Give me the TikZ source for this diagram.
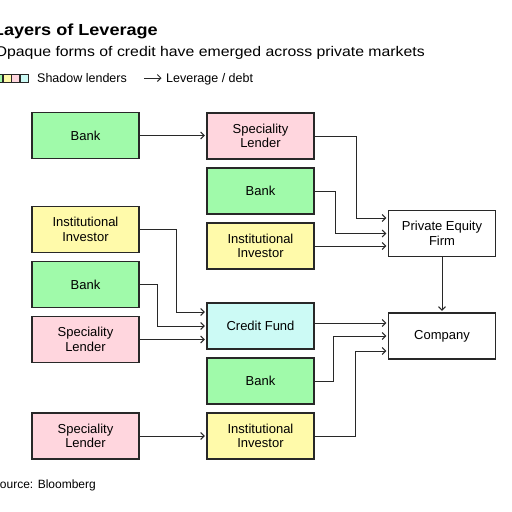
\documentclass[tikz,border=0pt]{standalone}
\usepackage{fontspec}
\setmainfont{Liberation Sans}
\newfontfamily\headfont[FakeStretch=1.13]{Liberation Sans}
\usetikzlibrary{arrows.meta}
\definecolor{bankgreen}{RGB}{160,250,170}
\definecolor{lenderpink}{RGB}{255,214,222}
\definecolor{investoryellow}{RGB}{255,250,170}
\definecolor{fundcyan}{RGB}{204,250,245}
\definecolor{edgegray}{RGB}{40,40,40}

\begin{document}
\begin{tikzpicture}[x=1pt,y=-1pt,
	entity/.style={draw=edgegray, line width=1.2pt, minimum width=107pt, minimum height=46pt, inner sep=0pt, align=center, font=\fontsize{13}{14.5}\selectfont},
	bank/.style={entity, fill=bankgreen},
	lender/.style={entity, fill=lenderpink},
	investor/.style={entity, fill=investoryellow},
	fund/.style={entity, fill=fundcyan},
	firm/.style={entity, fill=white},
	debt/.style={draw=edgegray, line width=1pt, shorten >=1.5pt, -{Straight Barb[length=3.5pt,width=7pt]}},
	swatch/.style={draw=edgegray, line width=0.8pt, minimum size=8pt, inner sep=0pt},
	caption/.style={inner sep=0pt, font=\fontsize{12.5}{14}\selectfont}]
			\useasboundingbox[fill=white] (0,0) rectangle (512,512);
			\node[anchor=base east, inner sep=0pt, font=\headfont\bfseries\fontsize{16}{18}\selectfont] (title) at (158,35) {Layers of Leverage};
			\node[anchor=base east, inner sep=0pt, font=\headfont\fontsize{14}{16}\selectfont] (subtitle) at (425,56) {Opaque forms of credit have emerged across private markets};
			\node[swatch, fill=bankgreen] (swatchA) at (-1.5,78) {};
			\node[swatch, fill=investoryellow] (swatchB) at (7,78) {};
			\node[swatch, fill=lenderpink] (swatchC) at (15.5,78) {};
			\node[swatch, fill=fundcyan] (swatchD) at (24,78) {};
			\node[caption, anchor=base west] (shadow) at (37,82) {Shadow lenders};
			\coordinate (keyA) at (144,78);
			\coordinate (keyB) at (163,78);
			\draw[debt] (keyA) -- (keyB);
			\node[caption, anchor=base west] (leverage) at (166,82) {Leverage / debt};
			\node[caption, anchor=base east, font=\fontsize{12}{14}\selectfont] (source) at (96,488) {Source: Bloomberg};
			\node[bank] (bankA) at (85.5,135.5) {Bank};
			\node[lender] (lenderA) at (260.5,136) {Speciality\\Lender};
			\node[bank] (bankB) at (260.5,191) {Bank};
			\node[investor] (investorA) at (260.5,246) {Institutional\\Investor};
			\node[firm] (pe) at (442,233.5) {Private Equity\\Firm};
			\node[investor] (investorB) at (85.5,229.5) {Institutional\\Investor};
			\node[bank] (bankC) at (85.5,284.5) {Bank};
			\node[lender] (lenderB) at (85.5,339.5) {Speciality\\Lender};
			\node[fund] (fund) at (260.5,326) {Credit Fund};
			\node[firm] (company) at (442,336) {Company};
			\node[bank] (bankD) at (260.5,381) {Bank};
			\node[lender] (lenderC) at (85.5,436) {Speciality\\Lender};
			\node[investor] (investorC) at (260.5,436) {Institutional\\Investor};
			\draw[debt] (bankA.east) -- (bankA.east -| lenderA.west);
			\draw[debt] (lenderA.east) -- ++(42,0) |- ([yshift=15.5pt]pe.west);
			\draw[debt] (bankB.east) -- ++(21,0) |- (pe.west);
			\draw[debt] (investorA.east) -- (investorA.east -| pe.west);
			\draw[debt] (pe) -- (company);
			\draw[debt] (investorB.east) -- ++(37,0) |- ([yshift=14pt]fund.west);
			\draw[debt] (bankC.east) -- ++(18,0) |- (fund.west);
			\draw[debt] (lenderB.east) -- (lenderB.east -| fund.west);
			\draw[debt] ([yshift=13pt]company.west -| fund.east) -- ([yshift=13pt]company.west);
			\draw[debt] (bankD.east) -- ++(19,0) |- (company.west);
			\draw[debt] (investorC.east) -- ++(41,0) |- ([yshift=-15pt]company.west);
			\draw[debt] (lenderC) -- (investorC);
		\end{tikzpicture}
\end{document}
